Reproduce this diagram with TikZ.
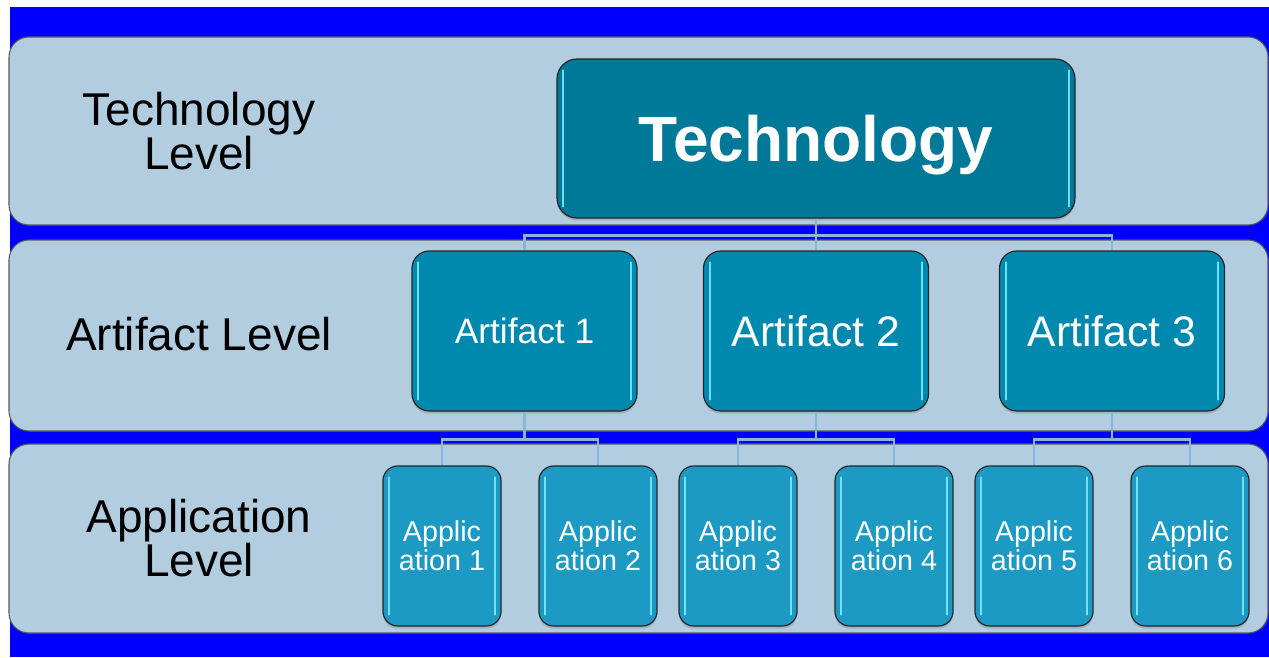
\documentclass[tikz,border=0pt]{standalone}
\usepackage{fontspec}
\setmainfont{Liberation Sans}
\usetikzlibrary{calc,shadows}
\definecolor{bgblue}{RGB}{0,0,255}
\definecolor{bandc}{RGB}{179,205,224}
\definecolor{techc}{RGB}{0,121,153}
\definecolor{artc}{RGB}{0,137,175}
\definecolor{appc}{RGB}{28,154,196}
\definecolor{connc}{RGB}{135,185,215}
\definecolor{hlc}{RGB}{125,232,255}
\begin{document}
\begin{tikzpicture}[x=0.75pt,y=-0.75pt,
  bandbox/.style={draw=black!65, line width=0.8pt, fill=bandc, rounded corners=15pt},
  boxbase/.style={draw=black!85, line width=0.9pt, text=white, inner sep=0pt, align=center,
    drop shadow={shadow xshift=0pt, shadow yshift=-2pt, opacity=0.35}},
  techbox/.style={boxbase, fill=techc, rounded corners=15pt, minimum width=388.5pt, minimum height=119.25pt,
    font=\fontsize{48}{56}\selectfont\bfseries, text depth=0pt},
  artbox/.style={boxbase, fill=artc, rounded corners=13pt, minimum width=168.75pt, minimum height=120pt},
  appbox/.style={boxbase, fill=appc, rounded corners=11pt, minimum width=88.5pt, minimum height=120pt,
    font=\fontsize{21.5}{21.5}\selectfont},
  lvl/.style={align=center, text=black, inner sep=0pt, font=\fontsize{34.5}{31.5}\selectfont},
  conn/.style={draw=connc, line width=2.2pt},
  hl/.style={draw=hlc, line width=1.6pt, line cap=round, opacity=0.9}]
\useasboundingbox (0,0) rectangle (1269,657);
\fill[white] (0,0) rectangle (1269,657);
\fill[bgblue] (10,7) rectangle (1269,657);
\draw[bandbox] (9,37) rectangle (1268,225);
\draw[bandbox] (9,240) rectangle (1268,431);
\draw[bandbox] (9,444) rectangle (1268,633);

\node[lvl] (l1) at (199,131) {Technology\\Level};
\node[lvl] (l2) at (199,334) {Artifact Level};
\node[lvl] (l3) at (199,538) {Application\\Level};

\node[techbox] (tech) at (816,138.5) {Technology};
\node[artbox, font=\fontsize{26.5}{30}\selectfont] (a1) at (524.5,331) {Artifact 1};
\node[artbox, font=\fontsize{32}{36}\selectfont] (a2) at (816,331) {Artifact 2};
\node[artbox, font=\fontsize{32}{36}\selectfont] (a3) at (1112,331) {Artifact 3};

\node[appbox] (p1) at (442,546) {Applic\\ation 1};
\node[appbox] (p2) at (598,546) {Applic\\ation 2};
\node[appbox] (p3) at (738,546) {Applic\\ation 3};
\node[appbox] (p4) at (894,546) {Applic\\ation 4};
\node[appbox] (p5) at (1034,546) {Applic\\ation 5};
\node[appbox] (p6) at (1190,546) {Applic\\ation 6};

\foreach \n in {tech,a1,a2,a3,p1,p2,p3,p4,p5,p6}{
  \draw[hl] ($(\n.north west)+(7,12)$) -- ($(\n.south west)+(7,-12)$);
  \draw[hl] ($(\n.north east)+(-7,12)$) -- ($(\n.south east)+(-7,-12)$);
}

\draw[conn] (tech.south) -- ++(0,17) -| (a1.north);
\draw[conn] (tech.south) -- ++(0,17) -| (a3.north);
\draw[conn] (tech.south) -- (a2.north);
\draw[conn] (a1.south) -- ++(0,28) -| (p1.north);
\draw[conn] (a1.south) -- ++(0,28) -| (p2.north);
\draw[conn] (a2.south) -- ++(0,28) -| (p3.north);
\draw[conn] (a2.south) -- ++(0,28) -| (p4.north);
\draw[conn] (a3.south) -- ++(0,28) -| (p5.north);
\draw[conn] (a3.south) -- ++(0,28) -| (p6.north);
\end{tikzpicture}
\end{document}
